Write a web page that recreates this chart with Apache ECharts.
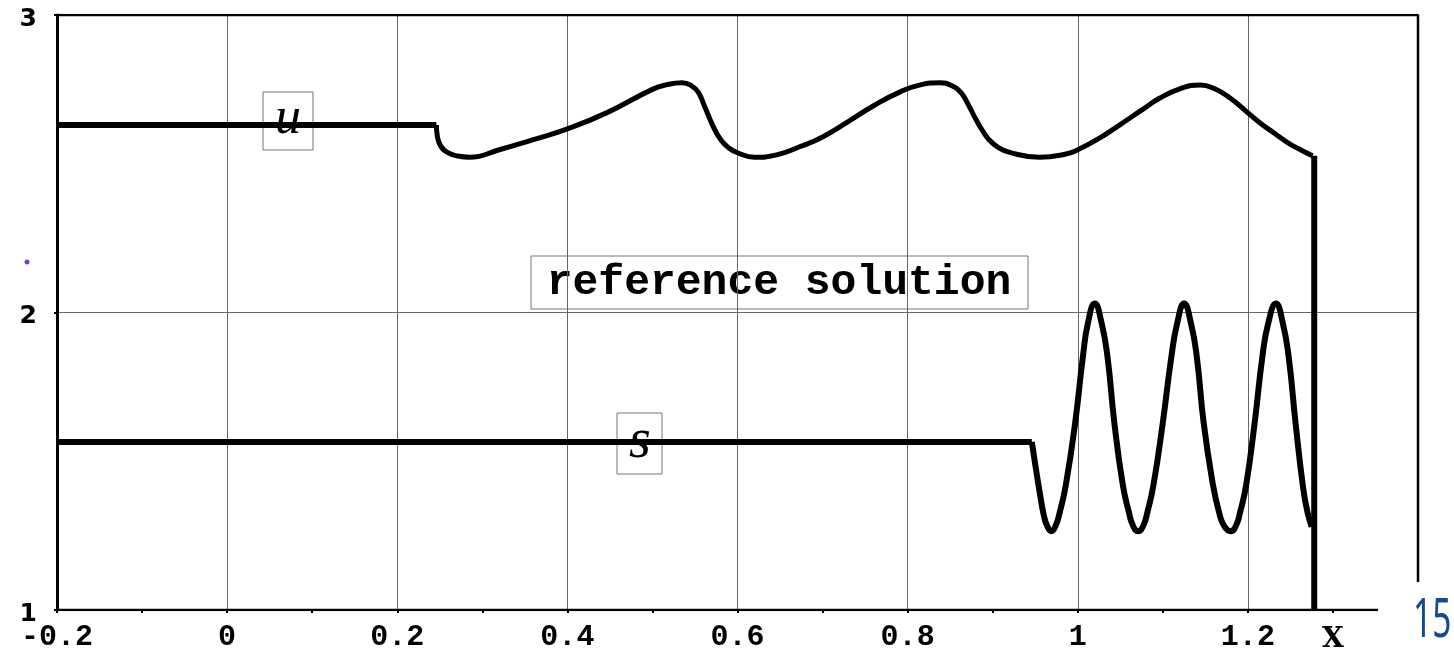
<!DOCTYPE html>
<html>
<head>
<meta charset="utf-8">
<script src="https://cdn.jsdelivr.net/npm/echarts@6/dist/echarts.min.js"></script>
<style>
  html, body { margin: 0; padding: 0; background: #fff; }
  #chart { width: 1454px; height: 649px; }
</style>
</head>
<body>
<div id="chart"></div>
<script>
// u: flat state, wavy part, then the jump down at the front
const uFlat = [[-0.2, 2.63], [0.246, 2.63]]
const uWave = [
  [0.246, 2.63], [0.247, 2.595], [0.251, 2.56], [0.259, 2.538], [0.271, 2.526], [0.285, 2.522],
  [0.32, 2.547], [0.359, 2.58], [0.4, 2.617], [0.446, 2.671], [0.5, 2.75], [0.516, 2.765],
  [0.535, 2.772], [0.546, 2.762], [0.554, 2.74], [0.561, 2.695], [0.567, 2.654], [0.573, 2.616],
  [0.58, 2.582], [0.589, 2.555], [0.6, 2.537], [0.62, 2.522], [0.646, 2.53], [0.673, 2.557],
  [0.7, 2.59], [0.732, 2.645], [0.76, 2.695], [0.79, 2.74], [0.815, 2.765], [0.838, 2.772],
  [0.852, 2.762], [0.863, 2.738], [0.872, 2.695], [0.879, 2.656], [0.887, 2.616], [0.895, 2.583],
  [0.906, 2.556], [0.92, 2.538], [0.955, 2.522], [0.985, 2.532], [1.0, 2.547], [1.025, 2.585],
  [1.049, 2.63], [1.075, 2.68], [1.096, 2.72], [1.12, 2.752], [1.144, 2.765], [1.161, 2.752],
  [1.179, 2.721], [1.196, 2.681], [1.214, 2.638], [1.232, 2.601], [1.249, 2.567], [1.264, 2.544],
  [1.276, 2.527]
]
const uJump = [[1.278, 2.527], [1.278, 1.0]]

// s: flat state, then the oscillations behind the front
const sFlat = [[-0.2, 1.565], [0.946, 1.565]]
const sWave = [
  [0.946, 1.565], [0.95, 1.49], [0.955, 1.4], [0.96, 1.32], [0.964, 1.283], [0.969, 1.265],
  [0.974, 1.283], [0.979, 1.33], [0.986, 1.42], [0.997, 1.63], [1.006, 1.85], [1.012, 1.965],
  [1.02, 2.03], [1.028, 1.965], [1.035, 1.85], [1.043, 1.63], [1.053, 1.42], [1.06, 1.33],
  [1.065, 1.283], [1.071, 1.265], [1.077, 1.283], [1.082, 1.33], [1.089, 1.42], [1.1, 1.63],
  [1.11, 1.85], [1.117, 1.965], [1.125, 2.03], [1.133, 1.965], [1.14, 1.85], [1.148, 1.63],
  [1.159, 1.42], [1.166, 1.33], [1.172, 1.283], [1.18, 1.265], [1.186, 1.283], [1.191, 1.33],
  [1.198, 1.42], [1.208, 1.63], [1.217, 1.85], [1.224, 1.965], [1.233, 2.03], [1.241, 1.965],
  [1.248, 1.85], [1.256, 1.63], [1.265, 1.41], [1.27, 1.33], [1.275, 1.28]
]

// axis ticks and labels
const xTickValues = [-0.2, -0.1, 0, 0.1, 0.2, 0.3, 0.4, 0.5, 0.6, 0.7, 0.8, 0.9, 1, 1.1, 1.2, 1.3]
const xLabelValues = [-0.2, 0, 0.2, 0.4, 0.6, 0.8, 1, 1.2, 1.3]
const xLabelTexts = ['-0.2', '0', '0.2', '0.4', '0.6', '0.8', '1', '1.2', 'X']
const yTicks = [1, 2, 3]
const xMin = -0.2
const xMax = 1.4

const chart = echarts.init(document.getElementById('chart'))

function line(data, width, smooth) {
  return {
    type: 'line',
    data: data,
    smooth: smooth,
    symbol: 'none',
    silent: true,
    lineStyle: { color: '#000', width: width, cap: 'butt', join: 'round' },
    z: 5
  }
}

const option = {
  animation: false,
  backgroundColor: '#fff',
  grid: { left: 57, right: 36, top: 15, bottom: 39, containLabel: false, outerBoundsMode: 'none' },
  xAxis: [
    {
      type: 'value',
      min: xMin,
      max: xMax,
      interval: 0.1,
      axisLine: { show: false },
      axisTick: { show: true, length: 3, customValues: xTickValues, lineStyle: { color: '#000', width: 2 } },
      splitLine: { show: false },
      axisLabel: {
        customValues: xLabelValues,
        margin: 12,
        color: '#000',
        fontFamily: 'Liberation Mono',
        fontWeight: 'bold',
        fontSize: 30,
        formatter: function (v) {
          let i = xLabelValues.findIndex(function (t) { return Math.abs(t - v) < 1e-6 })
          if (i < 0) return ''
          return i === xLabelTexts.length - 1 ? '{x|' + xLabelTexts[i] + '}' : xLabelTexts[i]
        },
        rich: {
          x: { fontFamily: 'DejaVu Serif', fontWeight: 'bold', fontSize: 28, color: '#000', padding: [4, 0, 0, 0] }
        }
      }
    },
    {
      type: 'value',
      position: 'top',
      min: xMin,
      max: xMax,
      interval: 0.2,
      axisLine: { show: false },
      axisTick: { show: false },
      axisLabel: { show: false },
      splitLine: {
        show: true,
        showMinLine: false,
        showMaxLine: false,
        lineStyle: { color: '#666', width: 1 }
      }
    }
  ],
  yAxis: {
    type: 'value',
    min: yTicks[0],
    max: yTicks[yTicks.length - 1],
    interval: 1,
    axisLine: { show: true, onZero: false, lineStyle: { color: '#000', width: 3 } },
    axisTick: { show: true, length: 3, lineStyle: { color: '#000', width: 2 } },
    splitLine: {
      show: true,
      showMinLine: false,
      showMaxLine: false,
      lineStyle: { color: '#666', width: 1 }
    },
    axisLabel: {
      margin: 20,
      color: '#000',
      fontFamily: 'DejaVu Sans',
      fontWeight: 'bold',
      fontSize: 25,
      verticalAlign: 'top',
      lineHeight: 8
    }
  },
  series: [
    // frame: top and right border, bottom axis line
    {
      type: 'line',
      data: [[xMin, 3], [xMax, 3], [xMax, 1.094]],
      symbol: 'none',
      silent: true,
      lineStyle: { color: '#000', width: 2.5 },
      z: 3
    },
    {
      type: 'line',
      data: [[xMin, 1], [1.353, 1]],
      symbol: 'none',
      silent: true,
      lineStyle: { color: '#000', width: 2.5 },
      z: 3
    },
    line(uFlat, 6, false),
    line(uWave, 5, 0.5),
    line(uJump, 6, false),
    line(sFlat, 6, false),
    line(sWave, 6, 0.5)
  ],
  graphic: [
    {
      type: 'group', z: 100,
      children: [
        { type: 'rect', shape: { x: 263, y: 92, width: 50, height: 58 }, style: { fill: '#fff', stroke: '#777', lineWidth: 1 } },
        { type: 'text', style: { text: 'u', x: 288, y: 119, font: 'italic 52px "Liberation Serif"', fill: '#000', textAlign: 'center', textVerticalAlign: 'middle' } },
        { type: 'rect', shape: { x: 617, y: 413, width: 45, height: 61 }, style: { fill: '#fff', stroke: '#777', lineWidth: 1 } },
        { type: 'text', style: { text: 's', x: 640, y: 442, font: 'italic 56px "Liberation Serif"', fill: '#000', textAlign: 'center', textVerticalAlign: 'middle' } },
        { type: 'rect', shape: { x: 531, y: 256, width: 497, height: 53 }, style: { fill: '#fff', stroke: '#777', lineWidth: 1 } },
        { type: 'text', style: { text: 'reference solution', x: 779, y: 283, font: 'bold 43px "Liberation Mono"', fill: '#000', textAlign: 'center', textVerticalAlign: 'middle' } },
        { type: 'circle', shape: { cx: 27, cy: 262, r: 2.5 }, style: { fill: '#7a3fb0' } },
        {
          type: 'text', x: 1413, y: 622, scaleX: 0.62,
          style: { text: '15', x: 0, y: 0, font: '54px "Noto Sans"', fill: '#124a94', textAlign: 'left', textVerticalAlign: 'middle' }
        }
      ]
    }
  ]
}

chart.setOption(option)
</script>
</body>
</html>
